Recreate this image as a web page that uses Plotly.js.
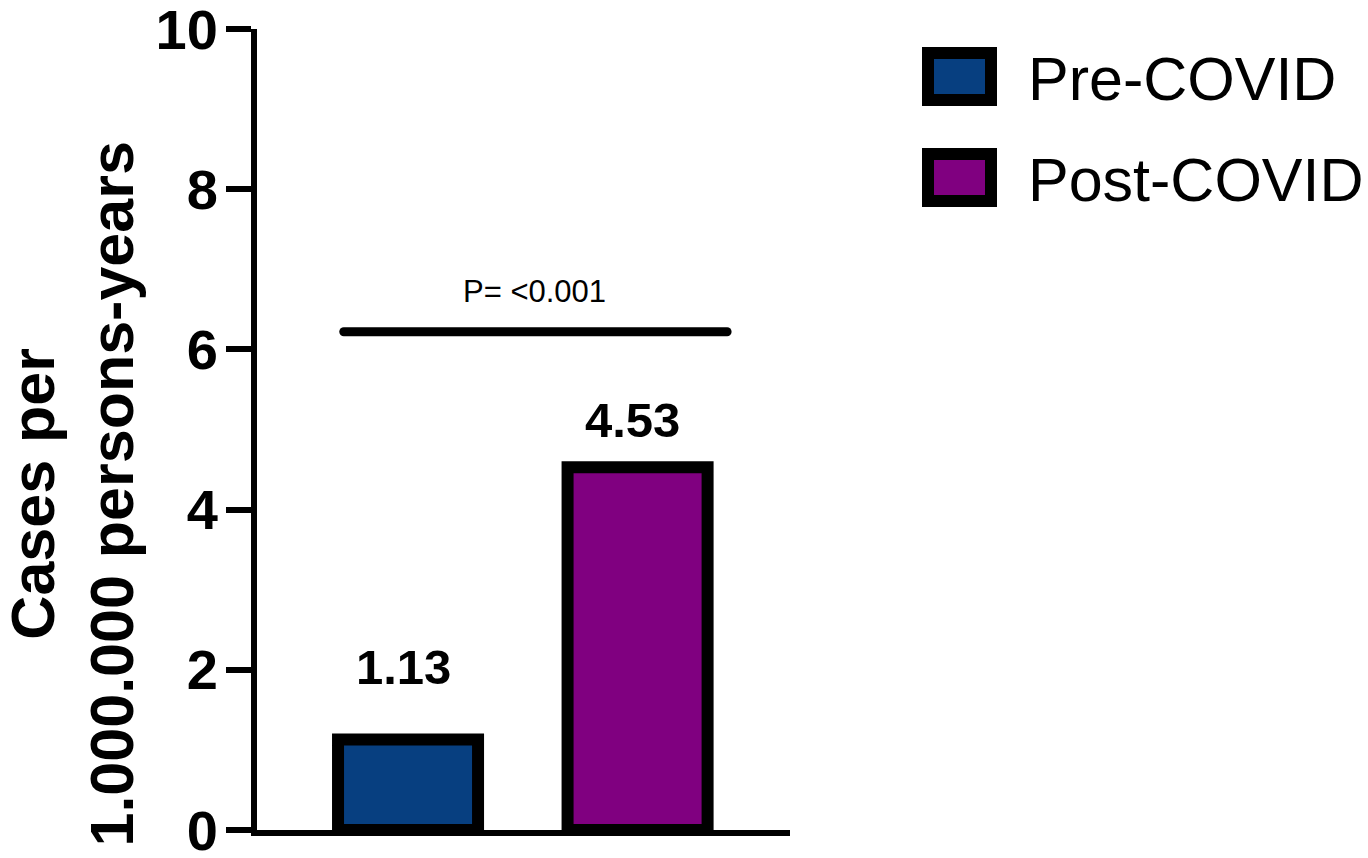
<!DOCTYPE html>
<html>
<head>
<meta charset="utf-8">
<script src="https://cdn.plot.ly/plotly-3.0.1.min.js"></script>
<style>
    html, body { margin: 0; padding: 0; background: #fff; }
    #chart { width: 1368px; height: 858px; }
    .shapelayer path { stroke-linecap: round; }
</style>
</head>
<body>
<div id="chart"></div>
<script>
// Dados do gráfico
const categories = ['Pre-COVID', 'Post-COVID'];
const values = [1.13, 4.53];
const barColors = ['#073f80', '#800080'];
const yTicks = [0, 2, 4, 6, 8, 10];
const pLabel = 'P= <0.001';
const yTitle = 'Cases per<br>1.000.000 persons-years';

// Deslocamento (px) dos rótulos acima das barras
const labelShift = [72, 47];

const FONT = 'Liberation Sans, Arial, Helvetica, sans-serif';
const W = 1368, H = 858;
const M = { l: 257, r: 10, t: 29, b: 28 };
const plotW = W - M.l - M.r;
const plotH = H - M.t - M.b;

// converte pixels da página para coordenadas "paper"
function px(x) { return (x - M.l) / plotW; }
function py(y) { return (H - M.b - y) / plotH; }

const traces = categories.map(function(cat, i) {
    return {
        type: 'bar',
        x: [cat],
        y: [values[i]],
        name: cat,
        width: 0.61,
        marker: { color: barColors[i], line: { color: '#000', width: 12 } },
        hoverinfo: 'skip',
        showlegend: false
    };
});

const annotations = [];
const shapes = [];

// rótulos de valor
categories.forEach(function(cat, i) {
    annotations.push({
        xref: 'x', yref: 'y', x: i, y: values[i],
        xshift: -5, yshift: labelShift[i], yanchor: 'middle', xanchor: 'center',
        text: values[i].toFixed(2), showarrow: false,
        font: { family: FONT, size: 49, color: '#000', weight: 'bold' }
    });
});

// linha de significância
shapes.push({
    type: 'line', xref: 'x', yref: 'y',
    x0: -0.28, x1: 1.39, y0: 6.22, y1: 6.22,
    line: { color: '#000', width: 9 }
});
annotations.push({
    xref: 'x', yref: 'y', x: 0.55, y: 6.72, yanchor: 'middle',
    text: pLabel, showarrow: false,
    font: { family: FONT, size: 31, color: '#000' }
});

// legenda manual
const legendTop = [53, 154];
categories.forEach(function(cat, i) {
    shapes.push({
        type: 'rect', xref: 'paper', yref: 'paper',
        x0: px(928), x1: px(991), y0: py(legendTop[i]), y1: py(legendTop[i] + 47),
        fillcolor: barColors[i], line: { color: '#000', width: 12 }
    });
    annotations.push({
        xref: 'paper', yref: 'paper', x: px(1026), y: py(legendTop[i] + 26),
        xanchor: 'left', yanchor: 'middle', text: cat, showarrow: false,
        font: { family: FONT, size: 61, color: '#000' }
    });
});

// título do eixo y
annotations.push({
    xref: 'paper', yref: 'paper', x: px(147), y: py(494),
    xanchor: 'right', yanchor: 'middle', textangle: -90,
    text: yTitle, showarrow: false, align: 'center',
    font: { family: FONT, size: 61, color: '#000', weight: 'bold' }
});

const layout = {
    width: W, height: H,
    margin: M,
    paper_bgcolor: '#fff', plot_bgcolor: '#fff',
    barmode: 'overlay',
    showlegend: false,
    font: { family: FONT, color: '#000' },
    xaxis: {
        domain: [0, (790 - M.l) / plotW],
        type: 'category',
        categoryorder: 'array', categoryarray: categories,
        range: [-0.658, 1.664],
        showline: true, linewidth: 6, linecolor: '#000',
        showticklabels: false, ticks: '', showgrid: false, zeroline: false,
        fixedrange: true
    },
    yaxis: {
        range: [0, 10],
        tickvals: yTicks,
        ticks: 'outside', ticklen: 25, tickwidth: 6, tickcolor: '#000',
        showline: true, linewidth: 6, linecolor: '#000',
        showgrid: false, zeroline: false,
        ticklabeloverflow: 'allow',
        ticklabelstandoff: -3,
        tickfont: { family: FONT, size: 56, color: '#000', weight: 'bold' },
        fixedrange: true
    },
    shapes: shapes,
    annotations: annotations
};

Plotly.newPlot('chart', traces, layout, { displayModeBar: false, staticPlot: true });
</script>
</body>
</html>
